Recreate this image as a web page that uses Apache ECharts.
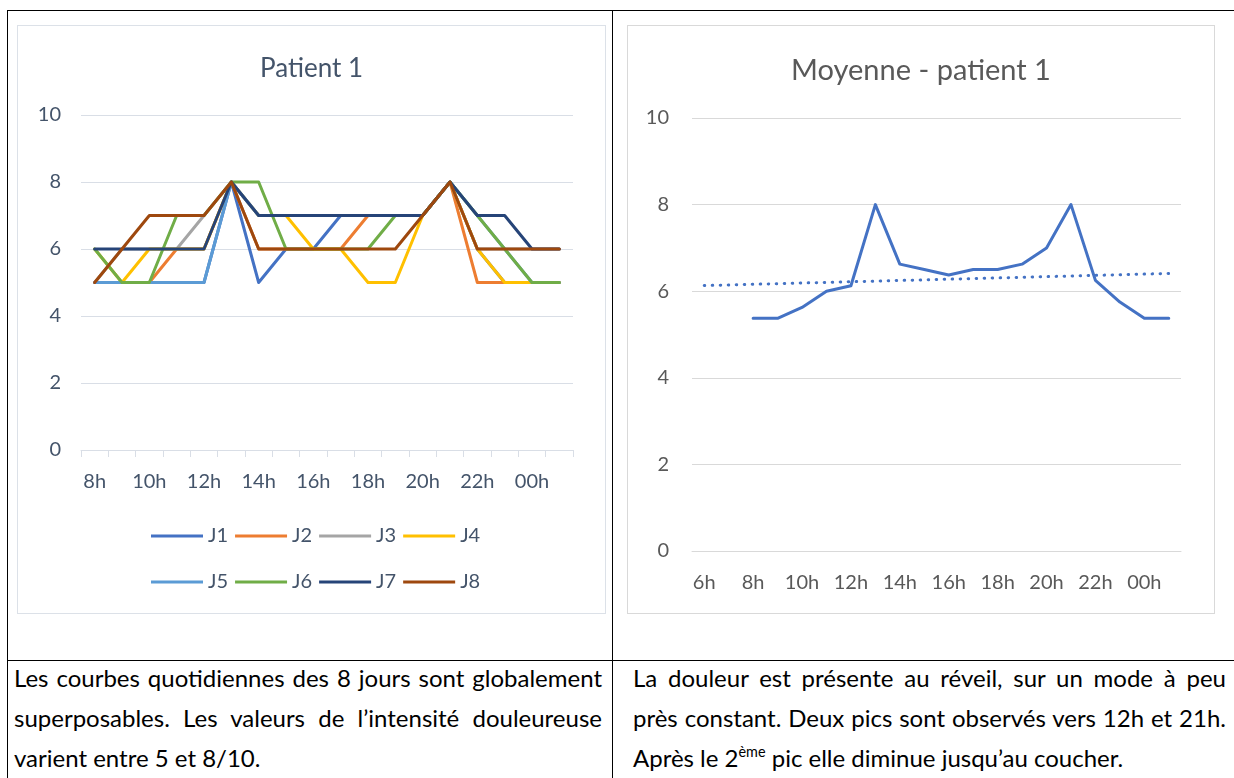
<!DOCTYPE html>
<html>
<head>
<meta charset="utf-8">
<script src="https://cdn.jsdelivr.net/npm/echarts@6/dist/echarts.min.js"></script>
<style>
body { margin:0; background:#fff; width:1234px; height:778px; overflow:hidden; position:relative; font-family:Lato, "Noto Sans", sans-serif; }
.ln { position:absolute; background:#000; }
.box { position:absolute; box-sizing:border-box; border:1px solid #D9D9D9; }
.box div.chart { position:absolute; left:0; top:0; width:100%; height:100%; }
.txt { position:absolute; font-size:24px; line-height:40px; color:#000; }
.txt div { text-align:justify; text-align-last:justify; white-space:nowrap; }
.txt div.last { text-align-last:left; }
sup { font-size:0.6em; line-height:0; vertical-align:0.7em; }
</style>
</head>
<body>
<div class="ln" style="left:7px;top:10px;width:1227px;height:1px"></div>
<div class="ln" style="left:7px;top:10px;width:1px;height:768px"></div>
<div class="ln" style="left:612px;top:10px;width:1px;height:768px"></div>
<div class="ln" style="left:7px;top:660px;width:1227px;height:1px"></div>

<div class="box" style="left:17px;top:25px;width:589px;height:589px;border-color:#DCE1E8"><div class="chart" id="chart1"></div></div>
<div class="box" style="left:627px;top:25px;width:588px;height:589px"><div class="chart" id="chart2"></div></div>

<div class="txt" style="left:14px;top:658px;width:588px">
  <div>Les courbes quotidiennes des 8 jours sont globalement</div>
  <div>superposables. Les valeurs de l’intensité douleureuse</div>
  <div class="last">varient entre 5 et 8/10.</div>
</div>
<div class="txt" style="left:633px;top:658px;width:593px">
  <div>La douleur est présente au réveil, sur un mode à peu</div>
  <div>près constant. Deux pics sont observés vers 12h et 21h.</div>
  <div class="last">Après le 2<sup>ème</sup> pic elle diminue jusqu’au coucher.</div>
</div>

<script>
// heures du patient 1 (8h -> 1h)
var heures = ['8h','9h','10h','11h','12h','13h','14h','15h','16h','17h','18h','19h','20h','21h','22h','23h','00h','1h'];
var heuresMoy = ['6h','7h','8h','9h','10h','11h','12h','13h','14h','15h','16h','17h','18h','19h','20h','21h','22h','23h','00h','1h'];

var J1 = [5,5,5,5,5,8,5,6,6,7,7,7,7,8,6,5,5,5];
var J2 = [5,5,5,6,6,8,6,6,6,6,7,7,7,8,5,5,5,5];
var J3 = [5,6,6,6,7,8,7,7,7,7,7,7,7,8,6,6,6,6];
var J4 = [6,5,6,6,6,8,7,7,6,6,5,5,7,8,6,5,5,5];
var J5 = [5,5,5,5,5,8,7,7,7,7,7,7,7,8,7,6,5,5];
var J6 = [6,5,5,7,7,8,8,6,6,6,6,7,7,8,7,6,5,5];
var J7 = [6,6,6,6,6,8,7,7,7,7,7,7,7,8,7,7,6,6];
var J8 = [5,6,7,7,7,8,6,6,6,6,6,6,7,8,6,6,6,6];

// moyenne (8h -> 1h), pas de valeur a 6h et 7h
var moyenne = [5.375,5.375,5.625,6,6.125,8,6.625,6.5,6.375,6.5,6.5,6.625,7,8,6.25,5.75,5.375,5.375];
var tendanceDebut = 6.13;
var tendanceFin = 6.41;

var jours = ['J1','J2','J3','J4','J5','J6','J7','J8'];
var valeurs = [J1,J2,J3,J4,J5,J6,J7,J8];
var couleurs = ['#4472C4','#ED7D31','#A5A5A5','#FFC000','#5B9BD5','#70AD47','#264478','#9E480E'];

var police = 'Lato';

function MyCharts() {
    var option1, option2;

    function initOption1() {
        var txt = '#44546A';
        var grille = '#D9DEE6';
        var series = [];
        for (var i = 0; i < jours.length; i++) {
            series.push({
                name: jours[i],
                type: 'line',
                data: valeurs[i],
                symbol: 'none',
                color: couleurs[i],
                lineStyle: { width: 3, cap: 'round', join: 'round' }
            });
        }
        var legende = {
            icon: 'rect',
            itemWidth: 52,
            itemHeight: 3,
            itemGap: 7,
            textStyle: { color: txt, fontSize: 20, fontFamily: police }
        };
        option1 = {
            animation: false,
            title: {
                text: 'Patient 1',
                left: 'center',
                top: 25,
                textStyle: { color: txt, fontSize: 26, fontWeight: 'normal', fontFamily: police }
            },
            legend: [
                Object.assign({ data: jours.slice(0, 4), left: 128, top: 495 }, legende),
                Object.assign({ data: jours.slice(4), left: 128, top: 541 }, legende)
            ],
            grid: { left: 63, right: 32, top: 89, bottom: 163 },
            xAxis: {
                type: 'category',
                boundaryGap: true,
                data: heures,
                axisLine: { lineStyle: { color: grille, width: 1 } },
                axisTick: { show: true, interval: 0, length: 7, lineStyle: { color: grille } },
                axisLabel: { interval: 1, color: txt, fontSize: 20, fontFamily: police, margin: 22 }
            },
            yAxis: {
                type: 'value',
                min: 0,
                max: 10,
                interval: 2,
                axisLabel: { color: txt, fontSize: 20, fontFamily: police, margin: 20 },
                splitLine: { lineStyle: { color: grille, width: 1 } }
            },
            series: series
        };
    }

    function initOption2() {
        var txt = '#595959';
        var grille = '#D9D9D9';
        var bleu = '#4472C4';
        var dataMoy = [null, null].concat(moyenne);
        var dataTend = [tendanceDebut];
        for (var i = 1; i < heuresMoy.length - 1; i++) dataTend.push(null);
        dataTend.push(tendanceFin);
        option2 = {
            animation: false,
            title: {
                text: 'Moyenne - patient 1',
                left: 'center',
                top: 25,
                textStyle: { color: txt, fontSize: 29, fontWeight: 'normal', fontFamily: police }
            },
            grid: { left: 64, right: 33, top: 92, bottom: 62 },
            xAxis: {
                type: 'category',
                boundaryGap: true,
                data: heuresMoy,
                axisLine: { lineStyle: { color: grille, width: 1 } },
                axisTick: { show: false },
                axisLabel: { interval: 1, color: txt, fontSize: 20, fontFamily: police, margin: 22 }
            },
            yAxis: {
                type: 'value',
                min: 0,
                max: 10,
                interval: 2,
                axisLabel: { color: txt, fontSize: 20, fontFamily: police, margin: 23 },
                splitLine: { lineStyle: { color: grille, width: 1 } }
            },
            series: [
                {
                    name: 'Moyenne',
                    type: 'line',
                    data: dataMoy,
                    symbol: 'none',
                    color: bleu,
                    lineStyle: { width: 3, cap: 'round', join: 'round' }
                }, {
                    name: 'Tendance',
                    type: 'line',
                    data: dataTend,
                    connectNulls: true,
                    symbol: 'none',
                    color: bleu,
                    lineStyle: { width: 3, type: [0.5, 7.5], cap: 'round' }
                }
            ]
        };
    }

    this.initCharts = function () {
        initOption1();
        initOption2();
        echarts.init(document.getElementById('chart1')).setOption(option1);
        echarts.init(document.getElementById('chart2')).setOption(option2);
    };
}

new MyCharts().initCharts();
</script>
</body>
</html>
